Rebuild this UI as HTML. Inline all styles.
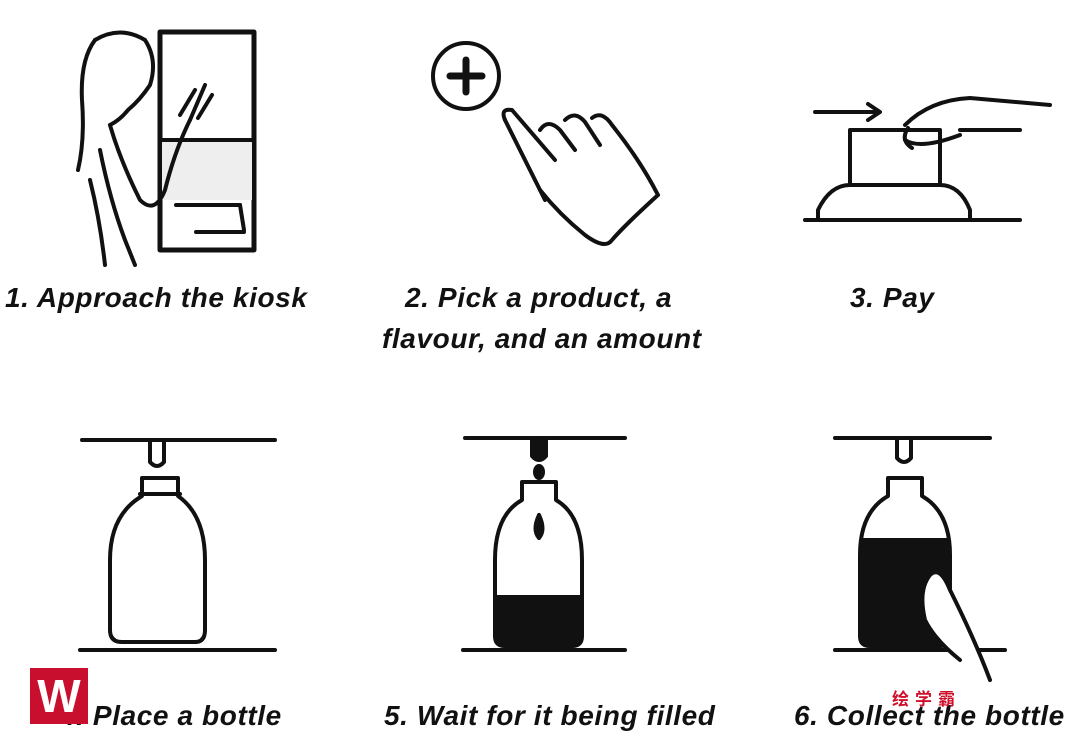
<!DOCTYPE html>
<html><head><meta charset="utf-8"><style>
html,body{margin:0;padding:0;background:#fff;}
#c{position:relative;width:1080px;height:747px;overflow:hidden;background:#fff;}
.t{position:absolute;font-family:"Liberation Sans",sans-serif;font-style:italic;font-weight:bold;font-size:28px;letter-spacing:0.6px;color:#111;white-space:nowrap;}
</style></head><body><div id="c">
<svg width="1080" height="747" style="position:absolute;left:0;top:0" fill="none" stroke="#111" stroke-width="4" stroke-linecap="round" stroke-linejoin="round">
<rect x="160" y="32" width="94" height="218" stroke-width="5"/>
<rect x="162" y="140" width="90" height="60" fill="#eee" stroke="none"/>
<line x1="160" y1="140" x2="254" y2="140"/>
<line x1="176" y1="205" x2="240" y2="205"/>
<line x1="240" y1="205" x2="244" y2="230"/>
<line x1="196" y1="232" x2="244" y2="232"/>
<path d="M95 40 Q120 25 145 40 Q158 60 150 85 Q140 100 128 110 Q120 120 110 125"/>
<path d="M95 40 Q80 60 82 100 Q85 140 78 170"/>
<path d="M110 125 Q120 160 140 200 Q155 215 165 190 Q175 150 190 120"/>
<path d="M190 120 L205 85 M198 118 L212 95 M180 115 L195 90"/>
<path d="M100 150 Q110 200 125 240 L135 265"/>
<path d="M90 180 Q100 220 105 265"/>
<circle cx="466" cy="76" r="33"/>
<path d="M466 60 V92 M450 76 H482" stroke-width="7"/>
<path d="M505 120 Q500 108 512 110 L555 160 M540 130 Q548 118 560 130 L575 150 M565 120 Q575 110 585 122 L600 145 M592 118 Q602 110 612 125 Q640 160 658 195 M540 190 Q560 215 585 235 Q605 250 612 240 Q625 225 658 195"/>
<path d="M505 120 L545 200"/>
<path d="M815 112 H878 M868 104 L880 112 L868 120"/>
<path d="M850 130 H940 V185 H850 Z"/>
<path d="M805 220 H1020 M818 220 V210 Q830 185 850 185 M940 185 Q960 185 970 210 V220"/>
<path d="M905 125 Q930 100 970 98 L1050 105 M960 130 L1020 130 M905 140 Q920 150 960 135 M908 128 Q900 140 912 148"/>
<line x1="82" y1="440" x2="275" y2="440"/>
<path d="M150 442 V462 Q157 470 164 462 V442"/>
<path d="M142 478 H178 V496 Q205 515 205 560 V630 Q205 642 195 642 H122 Q110 642 110 630 V560 Q110 515 142 496 Z"/>
<line x1="140" y1="494" x2="180" y2="494"/>
<line x1="80" y1="650" x2="275" y2="650"/>
<line x1="465" y1="438" x2="625" y2="438"/>
<path d="M532 440 V456 Q539 464 546 456 V440" fill="#111"/>
<ellipse cx="539" cy="472" rx="4" ry="6" fill="#111"/>
<path d="M522 482 H556 V500 Q582 515 582 560 V636 Q582 646 572 646 H505 Q495 646 495 636 V560 Q495 515 522 500 Z"/>
<path d="M497 597 H580 V636 Q580 644 572 644 H505 Q497 644 497 636 Z" fill="#111"/>
<path d="M539 515 Q532 530 539 538 Q546 530 539 515" fill="#111"/>
<line x1="463" y1="650" x2="625" y2="650"/>
<line x1="835" y1="438" x2="990" y2="438"/>
<path d="M897 440 V458 Q904 466 911 458 V440"/>
<path d="M888 478 H922 V496 Q950 512 950 555 V636 Q950 646 940 646 H870 Q860 646 860 636 V555 Q860 512 888 496 Z"/>
<path d="M862 540 H948 V636 Q948 644 940 644 H870 Q862 644 862 636 Z" fill="#111"/>
<line x1="835" y1="650" x2="1005" y2="650"/>
<path d="M990 680 Q975 640 950 590 Q940 565 930 575 Q918 590 925 620 Q935 640 960 660" fill="#fff"/>
</svg>
<div class="t" style="left:5px;top:282px">1. Approach the kiosk</div>
<div class="t" style="left:405px;top:282px">2. Pick a product, a</div>
<div class="t" style="left:382px;top:323px">flavour, and an amount</div>
<div class="t" style="left:850px;top:282px">3. Pay</div>
<div class="t" style="left:60px;top:700px">4. Place a bottle</div>
<div class="t" style="left:384px;top:700px">5. Wait for it being filled</div>
<div class="t" style="left:794px;top:700px">6. Collect the bottle</div>
<div style="position:absolute;left:30px;top:668px;width:58px;height:56px;background:#c8102e;color:#fff;font:bold 46px 'Liberation Sans',sans-serif;text-align:center;line-height:56px;">W</div>
<div style="position:absolute;left:892px;top:685px;color:#d0102a;font:bold 17px 'Liberation Sans','Noto Sans CJK SC',sans-serif;letter-spacing:6px">绘学霸</div>
</div></body></html>
